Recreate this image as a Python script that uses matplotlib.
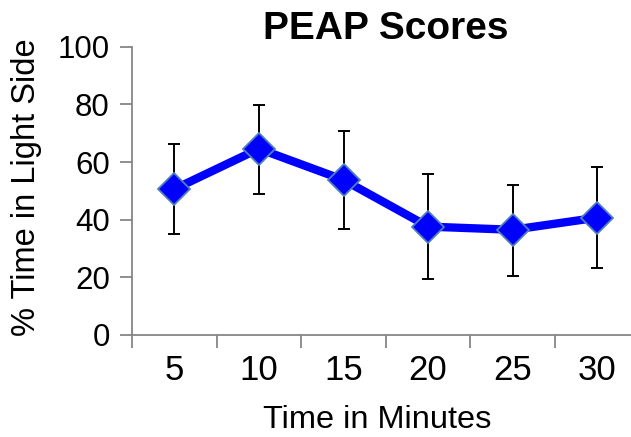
import matplotlib
matplotlib.use("Agg")
import matplotlib.pyplot as plt
import numpy as np

plt.rcParams['font.family'] = ['Liberation Sans', 'DejaVu Sans']

categories = ["5", "10", "15", "20", "25", "30"]
values = [50.6, 64.6, 53.8, 37.6, 36.5, 40.7]
err_upper = [66.2, 79.9, 70.8, 55.8, 52.1, 58.2]
err_lower = [35.1, 49.0, 36.8, 19.3, 20.6, 23.2]
yticks = [0, 20, 40, 60, 80, 100]

fig = plt.figure(figsize=(6.31, 4.37), dpi=100)
ax = fig.add_axes([132/631, 1-335/437, (639.6-132)/631, (335-46.7)/437])

x = np.arange(len(categories))
vals = np.array(values)
yerr = [vals - np.array(err_lower), np.array(err_upper) - vals]

ax.errorbar(x, vals, yerr=yerr, fmt='none', ecolor='black', elinewidth=1.4,
            capsize=4.3, capthick=1.4, zorder=2)
ax.plot(x, vals, color='#0000FF', lw=6, marker='D', markersize=16,
        markerfacecolor='#0000FF', markeredgecolor='#4F81BD', markeredgewidth=1.3,
        zorder=3, clip_on=False)

ax.set_xlim(-0.5, len(categories) - 0.5)
ax.set_ylim(0, 100)
ax.set_yticks(yticks)
ax.set_yticklabels([str(t) for t in yticks], fontsize=22.5)
ax.set_xticks(x)
ax.set_xticklabels(categories, fontsize=25)
ax.set_xticks(np.arange(-0.5, len(categories)), minor=True)
ax.tick_params(axis='x', which='major', length=0, pad=14)
ax.tick_params(axis='x', which='minor', length=9, width=1.3, color='#868686', direction='out')
ax.tick_params(axis='y', length=9, width=1.3, color='#868686', direction='out', pad=7)

for s in ['top', 'right']:
    ax.spines[s].set_visible(False)
for s in ['left', 'bottom']:
    ax.spines[s].set_color('#868686')
    ax.spines[s].set_linewidth(1.3)

ax.set_title("PEAP Scores", fontsize=28, fontweight='bold', pad=5)
fig.text(27/631, 1-187.5/437, "% Time in Light Side", fontsize=23.5, rotation=90,
         ha='center', va='center')
fig.text(377/631, 1-420/437, "Time in Minutes", fontsize=23.4, ha='center', va='center')

fig.savefig("out.png", dpi=100)
